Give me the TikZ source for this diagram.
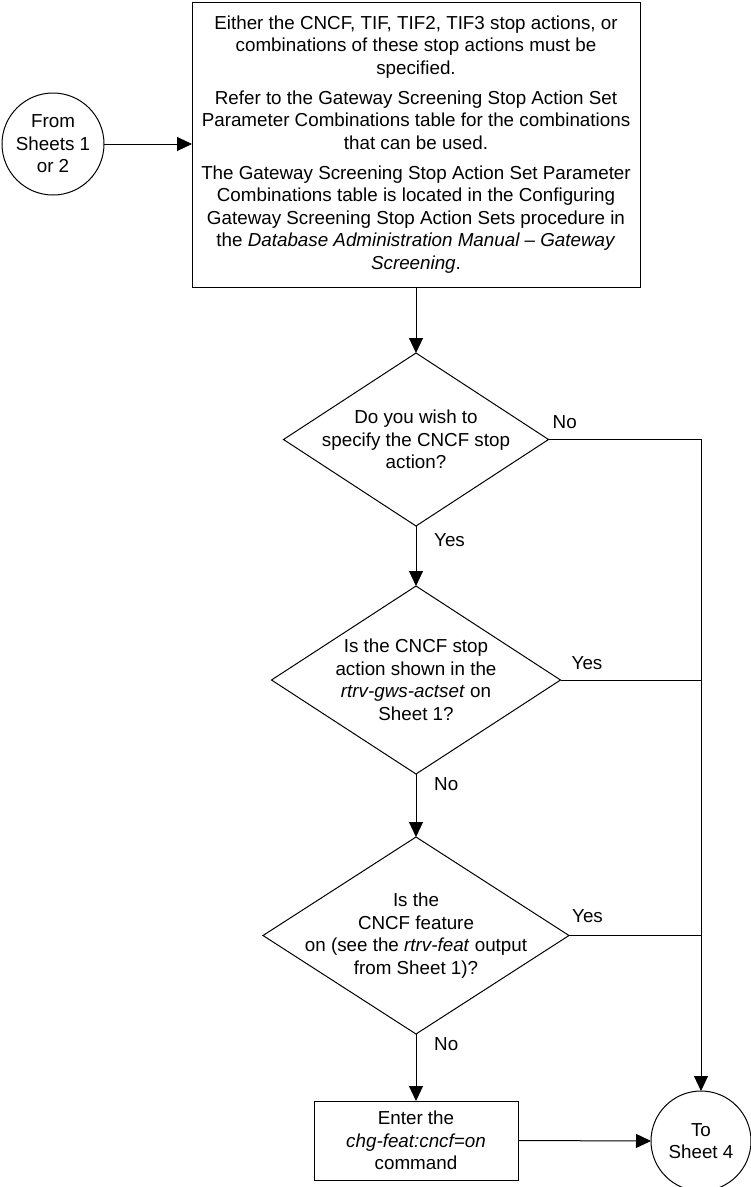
\documentclass[tikz,border=0pt]{standalone}
\usepackage{fontspec}
\setmainfont{Liberation Sans}
\usetikzlibrary{shapes.geometric,arrows.meta,calc}
\begin{document}
\begin{tikzpicture}[x=1pt,y=-1pt,
  every node/.style={font=\fontsize{18.8}{22.5}\selectfont},
  line/.style={line width=1pt,draw=black},
  arr/.style={line, -{Triangle[length=15pt,width=14pt]}},
  boxnode/.style={draw, line width=1pt, rectangle, inner sep=0pt, outer sep=0pt, align=center},
  circnode/.style={draw, line width=1pt, circle, inner sep=0pt, outer sep=0pt, align=center},
  dia/.style={draw, line width=1pt, diamond, inner sep=0pt, outer sep=0pt},
  dtext/.style={align=center, inner sep=0pt},
  lab/.style={inner sep=0pt, anchor=west}]
\useasboundingbox (0,0) rectangle (751,1187);

% top note box
\node[boxnode, minimum width=448pt, minimum height=285pt] (note) at (416,144.5)
 {Either the CNCF, TIF, TIF2, TIF3 stop actions, or\\
  combinations of these stop actions must be\\
  specified.\\[7.5pt]
  Refer to the Gateway Screening Stop Action Set\\
  Parameter Combinations table for the combinations\\
  that can be used.\\[7.5pt]
  The Gateway Screening Stop Action Set Parameter\\
  Combinations table is located in the Configuring\\
  Gateway Screening Stop Action Sets procedure in\\
  the \textit{Database Administration Manual – Gateway}\\
  \textit{Screening}.};

% from connector
\node[circnode, minimum size=102pt] (from) at (53,144) {From\\Sheets 1\\or 2};

% diamonds
\node[dia, minimum width=265pt, minimum height=173pt] (d1) at (416,439.5) {};
\node[dtext] (d1t) at (d1.center) {Do you wish to\\specify the CNCF stop\\action?};

\node[dia, minimum width=289pt, minimum height=188pt] (d2) at (416,680) {};
\node[dtext] (d2t) at (d2.center) {Is the CNCF stop\\action shown in the\\\textit{rtrv-gws-actset} on\\Sheet 1?};

\node[dia, minimum width=306pt, minimum height=197pt] (d3) at (416,935.5) {};
\node[dtext] (d3t) at (d3.center) {Is the\\CNCF feature\\on (see the \textit{rtrv-feat} output\\from Sheet 1)?};

% command box
\node[boxnode, minimum width=204pt, minimum height=79pt] (cmd) at (416,1140.5)
 {Enter the\\\textit{chg-feat:cncf=on}\\command};

% to connector
\node[circnode, minimum size=100pt] (to) at (701,1141) {To\\Sheet 4};

% right side junctions
\coordinate (r1) at (to |- d1.east);
\coordinate (r2) at (to |- d2.east);
\coordinate (r3) at (to |- d3.east);

% connectors
\draw[arr] (from.east) -- (note.west |- from.east);
\draw[arr] (note.south -| d1.north) -- (d1.north);
\draw[arr] (d1.south) -- (d2.north);
\draw[arr] (d2.south) -- (d3.north);
\draw[arr] (d3.south) -- (cmd.north);
\draw[arr] (cmd.east) -- (to.west);
\draw[arr] (d1.east) -- (r1) -- (to.north);
\draw[line] (d2.east) -- (r2);
\draw[line] (d3.east) -- (r3);

% labels
\node[lab] (l1) at ($(d1.east)+(4,-17)$) {No};
\node[lab] (l2) at ($(d1.south)+(18,14)$) {Yes};
\node[lab] (l3) at ($(d2.east)+(11,-17)$) {Yes};
\node[lab] (l4) at ($(d2.south)+(18,10)$) {No};
\node[lab] (l5) at ($(d3.east)+(3,-19)$) {Yes};
\node[lab] (l6) at ($(d3.south)+(18,10)$) {No};
\end{tikzpicture}
\end{document}
